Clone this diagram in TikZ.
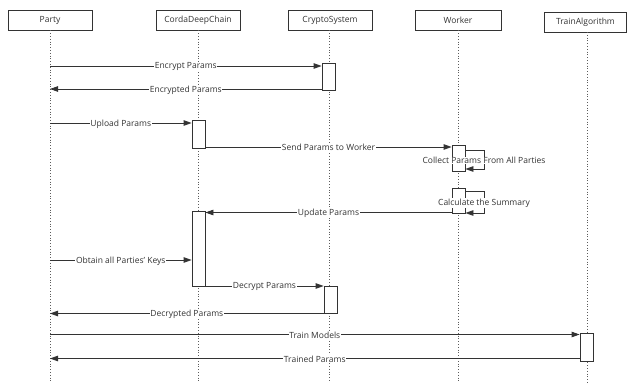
\documentclass[tikz,border=0pt]{standalone}
\usepackage{fontspec}
\setmainfont{Open Sans}
\usetikzlibrary{arrows.meta}
\definecolor{ln}{HTML}{333333}
\definecolor{tx}{HTML}{333333}
\begin{document}
\begin{tikzpicture}[x=1pt,y=-1pt,
  font=\fontsize{8.5}{10}\selectfont, text=tx,
  head/.style={draw=ln,line width=0.8pt,fill=white,minimum height=20pt,inner sep=0pt},
  actbox/.style={draw=ln,line width=0.8pt,fill=white,minimum width=13pt,inner sep=0pt},
  life/.style={draw=ln!80,line width=0.8pt,dotted},
  msg/.style={draw=ln,line width=0.8pt,-{Triangle[length=8pt,width=5.5pt]}},
  lbl/.style={fill=white,inner sep=0.6pt,text=tx,yshift=-0.8pt}]
\useasboundingbox (0,0) rectangle (627,383);
% headers
\node[head,minimum width=84pt] (party) at (50,20) {Party};
\node[head,minimum width=84pt] (corda) at (198,20) {CordaDeepChain};
\node[head,minimum width=84pt] (crypto) at (330,20) {CryptoSystem};
\node[head,minimum width=86pt] (worker) at (458,20) {Worker};
\node[head,minimum width=82pt] (train) at (585.5,22) {TrainAlgorithm};
% lifeline ends
\coordinate (pe) at (50,383);
\coordinate (ce) at (198,383);
\coordinate (se) at (329,383);
\coordinate (we) at (458,383);
\coordinate (te) at (587,383);
\draw[life] (party.south) -- (pe);
\draw[life] (corda.south) -- (ce);
\draw[life] (329,30) -- (se);
\draw[life] (worker.south) -- (we);
\draw[life] (587,32) -- (te);
% activation boxes
\node[actbox,minimum height=27pt] (s1) at (328.5,76.5) {};
\node[actbox,minimum height=28pt] (c1) at (198.5,134) {};
\node[actbox,minimum height=26pt] (w1) at (458.5,158) {};
\node[actbox,minimum height=25pt] (w2) at (458.5,200.5) {};
\node[actbox,minimum height=75pt] (c2) at (198.5,248.5) {};
\node[actbox,minimum height=27pt] (s2) at (330.5,299.5) {};
\node[actbox,minimum height=28pt] (t1) at (586.5,347.5) {};
% message heights
\coordinate (y1) at (0,66);
\coordinate (y2) at (0,89);
\coordinate (y3) at (0,123);
\coordinate (y4) at (0,147);
\coordinate (y5) at (0,212.5);
\coordinate (y6) at (0,260);
\coordinate (y7) at (0,286);
\coordinate (y8) at (0,313.5);
\coordinate (y9) at (0,334.5);
\coordinate (y10) at (0,358.5);
\coordinate (la1) at (484,150.5);
\coordinate (lb1) at (484,169);
\coordinate (la2) at (484,191);
\coordinate (lb2) at (484,213);
% messages
\draw[msg] (party|-y1) -- node[lbl]{Encrypt Params} (s1.west|-y1);
\draw[msg] (s1.west|-y2) -- node[lbl]{Encrypted Params} (party|-y2);
\draw[msg] (party|-y3) -- node[lbl]{Upload Params} (c1.west|-y3);
\draw[msg] (c1.east|-y4) -- node[lbl]{Send Params to Worker} (w1.west|-y4);
\draw[msg] (w1.east|-la1) -- (la1) -- node[lbl]{Collect Params From All Parties} (lb1) -- (w1.east|-lb1);
\draw[msg] (w2.east|-la2) -- (la2) -- node[lbl]{Calculate the Summary} (lb2) -- (w2.east|-lb2);
\draw[msg] (w2.west|-y5) -- node[lbl]{Update Params} (c2.east|-y5);
\draw[msg] (party|-y6) -- node[lbl]{Obtain all Parties' Keys} (c2.west|-y6);
\draw[msg] (c2.east|-y7) -- node[lbl]{Decrypt Params} (s2.west|-y7);
\draw[msg] (s2.west|-y8) -- node[lbl]{Decrypted Params} (party|-y8);
\draw[msg] (party|-y9) -- node[lbl]{Train Models} (t1.west|-y9);
\draw[msg] (t1.west|-y10) -- node[lbl]{Trained Params} (party|-y10);
\end{tikzpicture}
\end{document}
